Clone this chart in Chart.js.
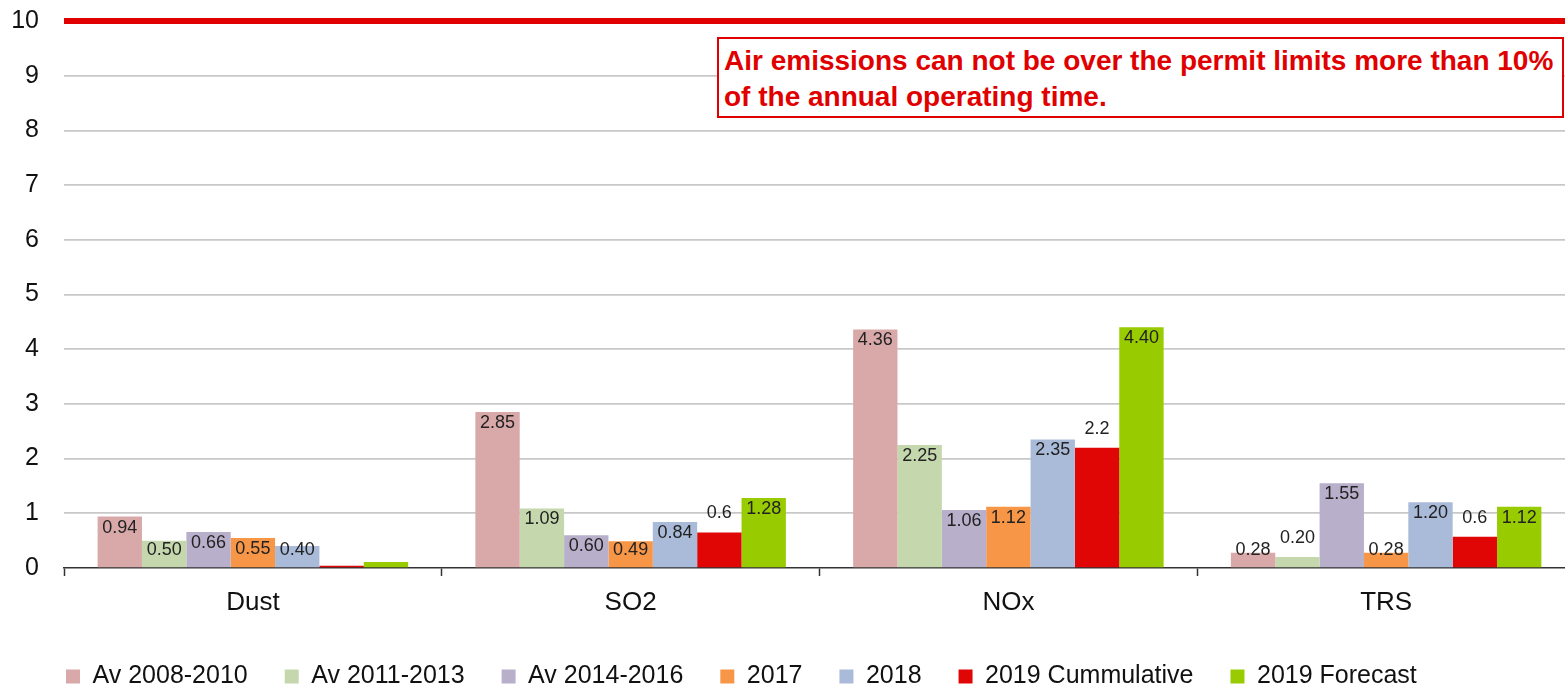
<!DOCTYPE html>
<html>
<head>
<meta charset="utf-8">
<script src="https://cdn.jsdelivr.net/npm/chart.js@4/dist/chart.umd.min.js"></script>
<style>
  body { margin: 0; overflow: hidden; background: #fff; }
  #wrap { position: relative; width: 1575px; height: 688px; }
  #note {
    position: absolute; left: 717px; top: 37px; width: 838px; height: 73px;
    border: 2px solid #e00000; background: #fff; color: #e00000;
    font: bold 28px "Liberation Sans", Arial, sans-serif; line-height: 36px;
    padding: 4px 0 0 5px; white-space: nowrap;
  }
</style>
</head>
<body>
<div id="wrap">
  <canvas id="myChart" width="1575" height="688"></canvas>
  <div id="note">Air emissions can not be over the permit limits more than 10%<br>of the annual operating time.</div>
</div>
<script>
const categories = ["Dust", "SO2", "NOx", "TRS"];
const seriesNames = ["Av 2008-2010", "Av 2011-2013", "Av 2014-2016", "2017", "2018", "2019 Cummulative", "2019 Forecast"];
const colors = ["#d9a9aa", "#c5d7ad", "#b8afca", "#f79646", "#aabbd9", "#e00606", "#99cc00"];

const av0810 = [0.94, 2.85, 4.36, 0.28];
const av1113 = [0.50, 1.09, 2.25, 0.20];
const av1416 = [0.66, 0.60, 1.06, 1.55];
const y2017 = [0.55, 0.49, 1.12, 0.28];
const y2018 = [0.40, 0.84, 2.35, 1.20];
const cum2019 = [0.04, 0.65, 2.2, 0.57];
const fc2019 = [0.11, 1.28, 4.40, 1.12];

const av0810Labels = ["0.94", "2.85", "4.36", "0.28"];
const av1113Labels = ["0.50", "1.09", "2.25", "0.20"];
const av1416Labels = ["0.66", "0.60", "1.06", "1.55"];
const y2017Labels = ["0.55", "0.49", "1.12", "0.28"];
const y2018Labels = ["0.40", "0.84", "2.35", "1.20"];
const cum2019Labels = ["", "0.6", "2.2", "0.6"];
const fc2019Labels = ["", "1.28", "4.40", "1.12"];

const yTicks = [0, 1, 2, 3, 4, 5, 6, 7, 8, 9, 10];
const limitValue = 10;

const allData = [av0810, av1113, av1416, y2017, y2018, cum2019, fc2019];
const allLabels = [av0810Labels, av1113Labels, av1416Labels, y2017Labels, y2018Labels, cum2019Labels, fc2019Labels];

const FONT = '"Liberation Sans", Arial, sans-serif';

// labels on bars
const barLabels = {
  id: "barLabels",
  afterDatasetsDraw(chart) {
    const c = chart.ctx;
    c.save();
    c.font = "18px " + FONT;
    c.fillStyle = "#222";
    c.textAlign = "center";
    c.textBaseline = "middle";
    chart.data.datasets.forEach((ds, i) => {
      const meta = chart.getDatasetMeta(i);
      meta.data.forEach((bar, j) => {
        const txt = allLabels[i][j];
        if (!txt) return;
        let y;
        if (ds.labelOutside || bar.base - bar.y < 13) {
          y = bar.y - 19;
        } else {
          y = Math.min(bar.y + 11, bar.base - 17);
        }
        c.fillText(txt, bar.x, y);
      });
    });
    c.restore();
  }
};

// legend starts under the plot, not at the canvas edge
const legendShift = {
  id: "legendShift",
  afterLayout(chart) {
    chart.legend.left = 29;
  }
};

const ctx = document.getElementById("myChart").getContext("2d");
new Chart(ctx, {
  type: "bar",
  data: {
    labels: categories,
    datasets: seriesNames.map((name, i) => ({
      label: name,
      data: allData[i],
      backgroundColor: colors[i],
      borderWidth: 0,
      barPercentage: 1,
      categoryPercentage: 0.822,
      labelOutside: i === 5,
    })),
  },
  options: {
    responsive: false,
    animation: false,
    layout: { padding: { top: 21, left: 0, right: 0, bottom: 0 } },
    scales: {
      x: {
        grid: {
          offset: true,
          drawOnChartArea: false,
          drawTicks: true,
          tickLength: 8,
          tickColor: "#333",
          tickWidth: 1.5,
        },
        border: { color: "#333", width: 1.5 },
        ticks: { color: "#111", padding: 11, font: { size: 26, family: FONT } },
        afterFit: (s) => { s.height = 59; },
      },
      y: {
        min: 0,
        max: 10,
        afterBuildTicks: (s) => { s.ticks = yTicks.map((v) => ({ value: v })); },
        grid: {
          drawTicks: true,
          tickLength: 25,
          tickColor: "rgba(0,0,0,0)",
          color: (c) => (c.tick.value === limitValue ? "#e00000" : c.tick.value === 0 ? "rgba(0,0,0,0)" : "#c8c8c8"),
          lineWidth: (c) => (c.tick.value === limitValue ? 6 : 1.7),
        },
        border: { display: false },
        ticks: { color: "#111", padding: 0, font: { size: 25, family: FONT } },
        afterFit: (s) => { s.width = 64; },
      },
    },
    plugins: {
      legend: {
        position: "bottom",
        align: "start",
        maxHeight: 61,
        labels: {
          boxWidth: 14,
          boxHeight: 14,
          padding: 37,
          color: "#111",
          font: { size: 25, family: FONT },
        },
      },
      tooltip: { enabled: false },
    },
  },
  plugins: [barLabels, legendShift],
});
</script>
</body>
</html>
